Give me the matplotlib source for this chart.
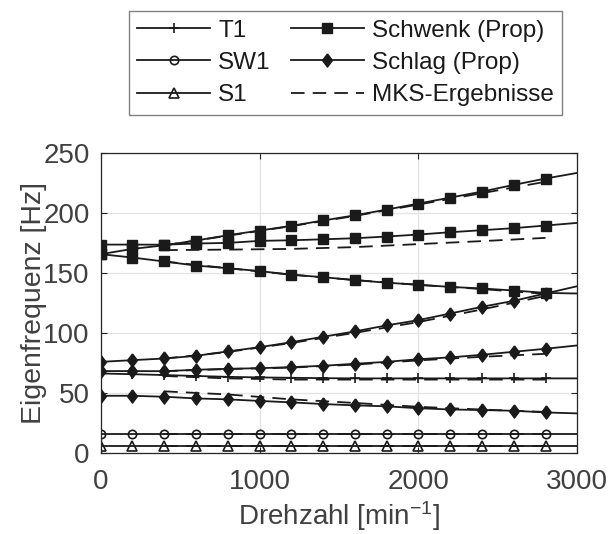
import numpy as np
import matplotlib
matplotlib.use("Agg")
import matplotlib.pyplot as plt
from matplotlib.lines import Line2D

plt.rcParams['font.family'] = ['Liberation Sans', 'DejaVu Sans']
plt.rcParams['mathtext.fontset'] = 'custom'
plt.rcParams['mathtext.rm'] = 'Liberation Sans'
plt.rcParams['mathtext.it'] = 'Liberation Sans:italic'

# ---------------- data ----------------
rpm = [0, 200, 400, 600, 800, 1000, 1200, 1400, 1600, 1800, 2000, 2200, 2400, 2600, 2800, 3000]
schwenk1 = [165.6, 170, 173, 177, 181.4, 185.3, 189.2, 193.7, 198, 202.8, 207.8, 212.8, 217.8, 223.4, 228.7, 233.4]
schwenk2 = [173.6, 173.6, 173.5, 174.5, 175, 176.7, 177.2, 178, 178.9, 180.3, 182, 183.9, 185.6, 187.3, 189.5, 191.7]
schwenk3 = [165.6, 162.8, 159.5, 156.1, 153.9, 151.5, 148.5, 146.4, 144, 141.8, 140.1, 138.3, 137, 135.3, 133.3, 132.8]
schlag1 = [75.8, 77.2, 78.6, 80.8, 84.5, 88, 92.2, 96.7, 101.2, 106.2, 110.6, 116.1, 121.7, 126.7, 132.8, 138.9]
schlag2 = [68.1, 68.1, 68, 69.2, 70, 70.5, 71.4, 72.5, 74.2, 75.8, 78, 79.5, 81.7, 84.2, 86.7, 89.5]
t1 = [66.1, 65.5, 64.8, 64, 63.3, 62.8, 62.5, 62.2, 62, 62, 62, 62, 62, 62, 62, 62]
schlag3 = [47.5, 47.5, 46.7, 45.3, 44.5, 43.2, 42, 40.6, 39.5, 38.7, 37.1, 36.1, 35.6, 35, 33.6, 32.8]
sw1 = [15.5] * 16
s1 = [6.0] * 16

rpm_mks = [400, 800, 1200, 1600, 2000, 2400, 2800]
mks_schwenk1 = [173, 181, 189, 197.5, 207, 216.5, 226]
mks_schwenk2 = [169, 169.4, 170, 171.5, 174, 176.5, 179.2]
mks_schwenk3 = [159.5, 153.9, 148.5, 144, 140, 136.5, 132.5]
mks_schlag1 = [78.5, 84, 91.5, 100, 109, 119.5, 130.8]
mks_schlag2 = [68, 69.8, 71, 73.5, 77, 80, 82.5]
mks_t1 = [64, 62, 61, 61, 61, 61, 61]
mks_schlag3 = [51.2, 48.6, 44.5, 41.5, 38.3, 36, 34]
mks_sw1 = [15.5] * 7
mks_s1 = [6.0] * 7

legend_labels = ['T1', 'SW1', 'S1', 'Schwenk (Prop)', 'Schlag (Prop)', 'MKS-Ergebnisse']

# ---------------- style ----------------
txt = '#404040'
axc = '#262626'
lc = '#1a1a1a'
lw = 1.3
diamond = [(0, 1), (0.75, 0), (0, -1), (-0.75, 0), (0, 1)]
mk_plus = dict(marker='+', ms=7.0, mew=1.2)
mk_circ = dict(marker='o', ms=6.0, mfc='none', mec=lc, mew=1.2)
mk_tri = dict(marker='^', ms=6.5, mfc='none', mec=lc, mew=1.2)
mk_sq = dict(marker='s', ms=6.5, mfc=lc, mec=lc)
mk_dia = dict(marker=diamond, ms=9.5, mfc=lc, mec=lc)

fig = plt.figure(figsize=(6.08, 5.34), dpi=100)
ax = fig.add_axes([0.1656, 0.1522, 0.9495 - 0.1656, 0.7135 - 0.1522])

mev = slice(0, 15)
common = dict(color=lc, lw=lw, markevery=mev)

# MKS dashed lines (behind)
for ys in [mks_schwenk1, mks_schwenk2, mks_schwenk3, mks_schlag1, mks_schlag2,
           mks_t1, mks_schlag3, mks_sw1, mks_s1]:
    ax.plot(rpm_mks, ys, color=lc, lw=lw, dashes=(7.5, 4.5))

ax.plot(rpm, t1, **mk_plus, **common)
ax.plot(rpm, sw1, **mk_circ, **common)
ax.plot(rpm, s1, **mk_tri, **common)
for ys in [schwenk1, schwenk2, schwenk3]:
    ax.plot(rpm, ys, **mk_sq, **common)
for ys in [schlag1, schlag2, schlag3]:
    ax.plot(rpm, ys, **mk_dia, **common)

ax.set_xlim(0, 3000)
ax.set_ylim(0, 250)
ax.set_xticks([0, 1000, 2000, 3000])
ax.set_yticks([0, 50, 100, 150, 200, 250])
ax.grid(True, color='#e3e3e3', lw=0.9)
ax.set_axisbelow(True)
for s in ax.spines.values():
    s.set_color(axc)
    s.set_linewidth(0.9)
ax.tick_params(direction='in', top=True, right=True, length=4, width=0.8,
               colors=axc, labelcolor=txt, labelsize=20)
ax.tick_params(axis='x', pad=12)
ax.tick_params(axis='y', pad=8)
ax.set_xlabel(r'Drehzahl [min$^{-1}$]', fontsize=20, color=txt)
ax.set_ylabel('Eigenfrequenz [Hz]', fontsize=20.5, color=txt)
ax.xaxis.set_label_coords(0.5, -0.155)
ax.yaxis.set_label_coords(-0.113, 0.5)

# legend
handles = [
    Line2D([], [], color=lc, lw=lw, **mk_plus),
    Line2D([], [], color=lc, lw=lw, **mk_circ),
    Line2D([], [], color=lc, lw=lw, **mk_tri),
    Line2D([], [], color=lc, lw=lw, **mk_sq),
    Line2D([], [], color=lc, lw=lw, **mk_dia),
    Line2D([], [], color=lc, lw=lw, dashes=(7.5, 4.5)),
]
leg = fig.legend(handles, legend_labels, ncol=2, loc='upper center',
                 bbox_to_anchor=(0.568, 0.979), fontsize=17.5, frameon=True,
                 fancybox=False, edgecolor='#606060', handlelength=3.0,
                 handletextpad=0.33, columnspacing=0.82, labelspacing=0.42,
                 borderpad=0.35, borderaxespad=0)
leg.get_frame().set_linewidth(1.0)
for t in leg.get_texts():
    t.set_color('#1a1a1a')

fig.savefig('out.png', dpi=100)
